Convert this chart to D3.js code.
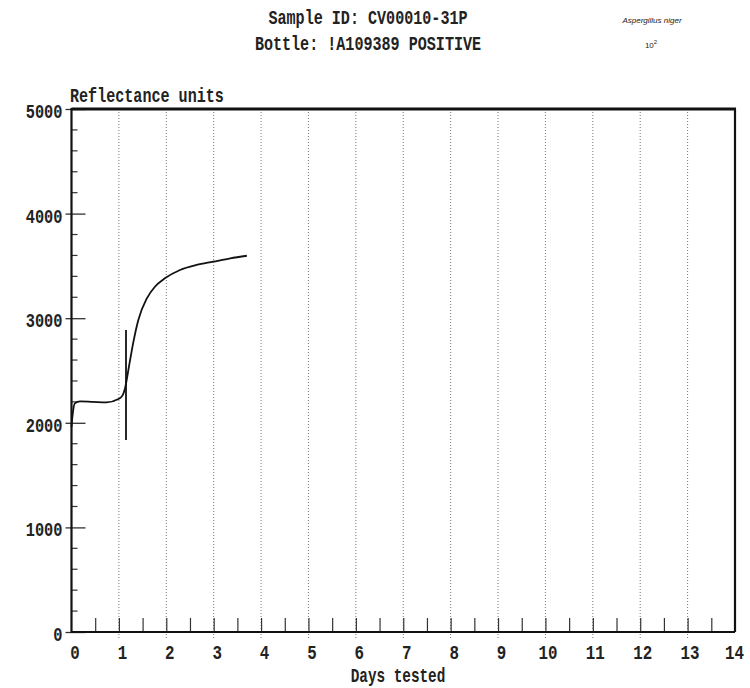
<!DOCTYPE html>
<html>
<head>
<meta charset="utf-8">
<script src="https://cdn.jsdelivr.net/npm/d3@7"></script>
<style>
  body { margin: 0; background: #fff; }
  svg { display: block; }
  .mono { font-family: "Liberation Mono", "DejaVu Sans Mono", monospace; fill: #222; font-weight: bold; }
</style>
</head>
<body>
<svg id="chart"></svg>
<script>
// chart values
var days = [0.0, 0.02, 0.07, 0.18, 0.45, 0.74, 0.99, 1.08, 1.13, 1.2, 1.3, 1.41, 1.59, 1.76, 1.97, 2.29, 2.64, 2.99, 3.35, 3.7];
var reflectance = [1960, 2060, 2186, 2205, 2200, 2195, 2227, 2265, 2330, 2505, 2760, 2983, 3190, 3301, 3381, 3461, 3509, 3540, 3572, 3597];
var marker = {day: 1.15, low: 1835, high: 2887};
var yMajor = [0, 1000, 2000, 3000, 4000, 5000];
var xLabels = d3.range(0, 15);
var titleLines = ["Sample ID: CV00010-31P", "Bottle: !A109389 POSITIVE"];

// SVG size params
var width = 750;
var height = 688;

var svg = d3.select("#chart")
    .attr("width", width)
    .attr("height", height);

// scales
var x = d3.scaleLinear().domain([0, 14]).range([71.5, 735]);
var y = d3.scaleLinear().domain([0, 5000]).range([632, 109]);

// squeezed monospace text, like the printer font
function mono(sel, size, charW) {
  sel.attr("class", "mono")
    .attr("font-size", size)
    .attr("textLength", function() { return this.textContent.length * charW; })
    .attr("lengthAdjust", "spacingAndGlyphs");
}

// titles
titleLines.forEach(function(t, i) {
  svg.append("text")
      .attr("x", 368)
      .attr("y", 24 + i * 26)
      .attr("text-anchor", "middle")
      .text(t)
      .call(mono, 21, 9.05);
});

svg.append("text")
    .attr("x", 652)
    .attr("y", 23)
    .attr("text-anchor", "middle")
    .attr("font-family", "Liberation Sans, Arial, sans-serif")
    .attr("font-style", "italic")
    .attr("font-size", 8)
    .attr("fill", "#222")
    .text("Aspergillus niger");

var exp = svg.append("text")
    .attr("x", 651)
    .attr("y", 48)
    .attr("text-anchor", "middle")
    .attr("font-family", "Liberation Sans, Arial, sans-serif")
    .attr("font-size", 8)
    .attr("fill", "#222");
exp.append("tspan").text("10");
exp.append("tspan").attr("dy", -4).attr("font-size", 6).text("2");

// y title
svg.append("text")
    .attr("x", 70)
    .attr("y", 102)
    .text("Reflectance units")
    .call(mono, 21, 9.05);

// dotted day gridlines
svg.append("g").selectAll("line")
    .data(d3.range(1, 14))
  .enter().append("line")
    .attr("x1", function(d) { return x(d); })
    .attr("x2", function(d) { return x(d); })
    .attr("y1", y(5000))
    .attr("y2", y(0) + 8)
    .attr("stroke", "#777")
    .attr("stroke-width", 1)
    .attr("stroke-dasharray", "1,2");

// half-day ticks going up from the x axis
var xTicks = svg.append("g")
    .attr("transform", "translate(0," + y(0) + ")")
    .call(d3.axisTop(x).tickValues(d3.range(0.5, 14, 0.5)).tickSize(14).tickFormat(""));
xTicks.select(".domain").remove();
xTicks.selectAll("line").attr("stroke", "#333").attr("stroke-width", 1.2);

// x labels
var xAxis = svg.append("g")
    .attr("transform", "translate(0," + y(0) + ")")
    .call(d3.axisBottom(x).tickValues(xLabels).tickSize(0).tickPadding(0).tickFormat(d3.format("d")));
xAxis.select(".domain").remove();
xAxis.selectAll("text")
    .attr("y", 27)
    .attr("dy", null)
    .attr("x", 3)
    .each(function() { d3.select(this).call(mono, 21, 9.5); })
    .attr("text-anchor", "middle");
xAxis.selectAll("text").filter(function(d) { return d >= 10; }).attr("x", 2);
xAxis.selectAll("text").filter(function(d) { return d == 14; }).attr("x", -1);

svg.append("text")
    .attr("x", 398)
    .attr("y", 682)
    .attr("text-anchor", "middle")
    .text("Days tested")
    .call(mono, 21, 8.6);

// y minor ticks
svg.append("g").selectAll("line")
    .data(d3.range(200, 5000, 200).filter(function(v) { return v % 1000 != 0; }))
  .enter().append("line")
    .attr("x1", x(0))
    .attr("x2", x(0) + 6)
    .attr("y1", function(d) { return y(d); })
    .attr("y2", function(d) { return y(d); })
    .attr("stroke", "#333")
    .attr("stroke-width", 1.2);

// y major ticks + labels
var yAxis = svg.append("g")
    .attr("transform", "translate(" + x(0) + ",0)")
    .call(d3.axisLeft(y).tickValues(yMajor).tickSize(6).tickPadding(8).tickFormat(d3.format("d")));
yAxis.select(".domain").remove();
yAxis.selectAll("line").attr("stroke", "#333").attr("stroke-width", 1.3);
yAxis.selectAll(".tick").append("line")
    .attr("x1", 0).attr("x2", 14)
    .attr("stroke", "#333").attr("stroke-width", 1.3);
yAxis.selectAll("text")
    .attr("x", -9)
    .attr("dy", "0.4em")
    .each(function() { d3.select(this).call(mono, 21, 9.2); })
    .attr("text-anchor", "end");

// frame
svg.append("line")
    .attr("x1", x(0)).attr("x2", x(0)).attr("y1", y(5000) - 1).attr("y2", y(0) + 1)
    .attr("stroke", "#111").attr("stroke-width", 2.2);
svg.append("line")
    .attr("x1", x(0)).attr("x2", x(14)).attr("y1", y(0)).attr("y2", y(0))
    .attr("stroke", "#111").attr("stroke-width", 2.2);
svg.append("line")
    .attr("x1", x(0)).attr("x2", x(14) + 1).attr("y1", y(5000)).attr("y2", y(5000))
    .attr("stroke", "#111").attr("stroke-width", 3);
svg.append("line")
    .attr("x1", x(14)).attr("x2", x(14)).attr("y1", y(5000)).attr("y2", y(0))
    .attr("stroke", "#111").attr("stroke-width", 2.2);

// curve
var line = d3.line()
    .x(function(d, i) { return x(days[i]); })
    .y(function(d) { return y(d); })
    .curve(d3.curveMonotoneX);

svg.append("path")
    .datum(reflectance)
    .attr("d", line)
    .attr("fill", "none")
    .attr("stroke", "#111")
    .attr("stroke-width", 1.8);

// positive detection marker
svg.append("line")
    .attr("x1", x(marker.day)).attr("x2", x(marker.day))
    .attr("y1", y(marker.low)).attr("y2", y(marker.high))
    .attr("stroke", "#111")
    .attr("stroke-width", 1.8);
</script>
</body>
</html>
